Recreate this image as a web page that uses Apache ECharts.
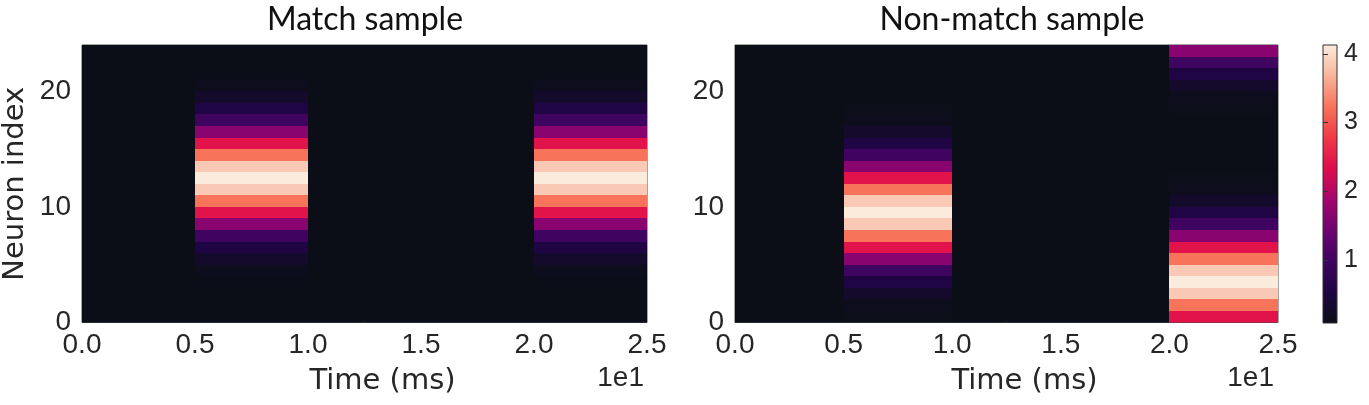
<!DOCTYPE html>
<html>
<head>
<meta charset="utf-8">
<script src="https://cdn.jsdelivr.net/npm/echarts@6/dist/echarts.min.js"></script>
<style>
html,body{margin:0;padding:0;background:#fff;}
#chart{width:1369px;height:405px;}
</style>
</head>
<body>
<div id="chart"></div>
<script>
// ---- data ----
const timeEdges = [0, 5, 10, 15, 20, 25];            // time bin edges (units of 1e1 -> ms axis shows /10)
const neuronCount = 24;
const xTickValues = [0, 5, 10, 15, 20, 25];
const yTickValues = [0, 10, 20];
const cbarTickValues = [1, 2, 3, 4];
const valueMin = 0.08;
const valueMax = 4.13;

const rest = [0.08,0.08,0.08,0.08,0.08,0.08,0.08,0.08,0.08,0.08,0.08,0.08,
              0.08,0.08,0.08,0.08,0.08,0.08,0.08,0.08,0.08,0.08,0.08,0.08];
// neuron rows 0..23
const matchPulse1 = [0.08,0.08,0.08,0.09,0.15,0.30,0.55,0.98,1.65,2.40,3.23,3.85,
                     4.13,3.85,3.23,2.40,1.65,0.98,0.55,0.30,0.15,0.09,0.08,0.08];
const matchPulse2 = [0.08,0.08,0.08,0.09,0.15,0.30,0.55,0.98,1.65,2.40,3.23,3.85,
                     4.13,3.85,3.23,2.40,1.65,0.98,0.55,0.30,0.15,0.09,0.08,0.08];
const nonMatchPulse1 = [0.10,0.15,0.30,0.55,0.98,1.65,2.40,3.23,3.85,4.13,3.85,3.23,
                        2.40,1.65,0.98,0.55,0.30,0.15,0.10,0.08,0.08,0.08,0.08,0.08];
const nonMatchPulse2 = [2.40,3.23,3.85,4.13,3.85,3.23,2.40,1.65,0.98,0.55,0.30,0.15,
                        0.10,0.08,0.08,0.08,0.08,0.08,0.10,0.15,0.30,0.55,0.98,1.65];

const matchColumns = [rest, matchPulse1, rest, rest, matchPulse2];
const nonMatchColumns = [rest, nonMatchPulse1, rest, rest, nonMatchPulse2];

const cmapColors = ['#0b0e17','#1e0542','#3e0460','#6e0270','#a5066e',
                    '#e00c4c','#f03a47','#f7745b','#f8b59c','#faebdd'];

function buildCells(columns){
  const out = [];
  for (let t = 0; t < columns.length; t++) {
    for (let r = 0; r < neuronCount; r++) {
      out.push([timeEdges[t], timeEdges[t+1], r, r+1, columns[t][r]]);
    }
  }
  return out;
}

const chart = echarts.init(document.getElementById('chart'), null, {renderer:'canvas'});
const tickFont = 'Liberation Sans, Arial, sans-serif';
const textColor = '#262626';

function renderCell(params, api){
  const p0 = api.coord([api.value(0), api.value(3)]);
  const p1 = api.coord([api.value(1), api.value(2)]);
  const x0 = Math.round(p0[0]), y0 = Math.round(p0[1]);
  const x1 = Math.round(p1[0]), y1 = Math.round(p1[1]);
  return {
    type:'rect',
    shape:{x:x0, y:y0, width:x1-x0, height:y1-y0},
    style:{fill: api.visual('color'), stroke: null}
  };
}

function xAxisCfg(gridIndex){
  return {
    type:'value', gridIndex, min:0, max:25, interval:5,
    axisLine:{show:false}, axisTick:{show:false}, splitLine:{show:false},
    axisLabel:{fontFamily:tickFont, fontSize:28, color:textColor, margin:9,
               formatter:v => (v/10).toFixed(1)},
    name:'Time (ms)', nameLocation:'middle', nameGap:44,
    nameTextStyle:{fontFamily:'DejaVu Sans, sans-serif', fontSize:29, color:textColor, padding:[0,0,0,36]}
  };
}
function yAxisCfg(gridIndex, withName){
  const cfg = {
    type:'value', gridIndex, min:0, max:neuronCount, interval:10,
    axisLine:{show:false}, axisTick:{show:false}, splitLine:{show:false},
    axisLabel:{fontFamily:tickFont, fontSize:28, color:textColor, margin:11,
               customValues: yTickValues}
  };
  if (withName) {
    cfg.name = 'Neuron index';
    cfg.nameLocation = 'middle';
    cfg.nameGap = 52;
    cfg.nameTextStyle = {fontFamily:'DejaVu Sans, sans-serif', fontSize:29, color:textColor};
  }
  return cfg;
}

const option = {
  backgroundColor:'#ffffff',
  animation:false,
  title:[
    {text:'Match sample', left:360, top:-1, textAlign:'center',
     textStyle:{fontFamily:'Lato, sans-serif', fontWeight:'normal', fontSize:32, color:'#111'}},
    {text:'Non-match sample', left:1007, top:-1, textAlign:'center',
     textStyle:{fontFamily:'Lato, sans-serif', fontWeight:'normal', fontSize:32, color:'#111'}}
  ],
  grid:[
    {left:82, top:45, width:565, height:277.5, show:true, borderColor:'#4a4a4a', borderWidth:1, backgroundColor:'transparent'},
    {left:735, top:45, width:543, height:277.5, show:true, borderColor:'#4a4a4a', borderWidth:1, backgroundColor:'transparent'},
    {left:1323, top:45, width:14, height:278, show:true, borderColor:'#333', borderWidth:1,
     backgroundColor:{type:'linear', x:0, y:1, x2:0, y2:0,
       colorStops: cmapColors.map((c,i)=>({offset:i/(cmapColors.length-1), color:c}))}}
  ],
  xAxis:[
    xAxisCfg(0), xAxisCfg(1),
    {type:'value', gridIndex:2, min:0, max:1, show:false}
  ],
  yAxis:[
    yAxisCfg(0, true), yAxisCfg(1, false),
    {type:'value', gridIndex:2, min:valueMin, max:valueMax, position:'right',
     axisLine:{show:false}, splitLine:{show:false},
     axisTick:{show:true, length:5, lineStyle:{color:'#333', width:1}, customValues: cbarTickValues},
     axisLabel:{fontFamily:tickFont, fontSize:25, color:textColor, margin:7, customValues: cbarTickValues}}
  ],
  visualMap:{
    type:'continuous', show:false, min:valueMin, max:valueMax, dimension:4,
    seriesIndex:[0,1], inRange:{color: cmapColors}
  },
  series:[
    {type:'custom', xAxisIndex:0, yAxisIndex:0, renderItem:renderCell,
     encode:{x:[0,1], y:[2,3]}, data: buildCells(matchColumns), clip:true},
    {type:'custom', xAxisIndex:1, yAxisIndex:1, renderItem:renderCell,
     encode:{x:[0,1], y:[2,3]}, data: buildCells(nonMatchColumns), clip:true}
  ],
  graphic:[
    {type:'text', right:1369-644, top:364, style:{text:'1e1', font:'28px Liberation Sans, Arial, sans-serif', fill:textColor}},
    {type:'text', right:1369-1274, top:364, style:{text:'1e1', font:'28px Liberation Sans, Arial, sans-serif', fill:textColor}}
  ]
};
chart.setOption(option);
</script>
</body>
</html>
